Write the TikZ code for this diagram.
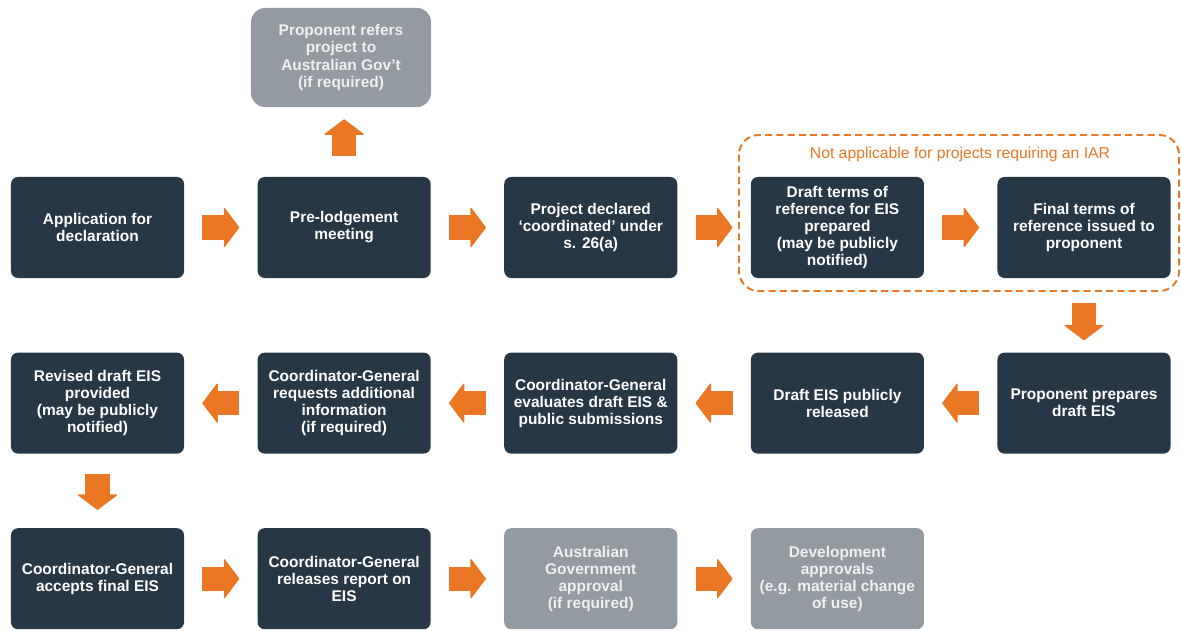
\documentclass[tikz,border=0pt]{standalone}
\usepackage{fontspec}
\setmainfont{Liberation Sans}
\usetikzlibrary{arrows.meta, positioning, calc}
\definecolor{NavyBox}{HTML}{263746}
\definecolor{GreyBox}{HTML}{939AA1}
\definecolor{FlowOrange}{HTML}{EA7724}

\begin{document}
\begin{tikzpicture}[
    x=0.025cm, y=-0.025cm,
    font=\fontsize{11}{12.1}\selectfont\bfseries,
    node distance=1.85cm and 1.825cm,
    stage/.style={fill=NavyBox, text=white, rounded corners=5pt, align=center,
        minimum width=4.325cm, minimum height=2.525cm, inner sep=2pt},
    optional/.style={stage, fill=GreyBox, text=white!94!black},
    flow/.style={FlowOrange, line width=0.6cm,
        -{Triangle[length=0.39cm, width=1.03cm, line width=0.8pt 0, round]},
        shorten <=0.45cm, shorten >=0.45cm},
]
\useasboundingbox (0,0) rectangle (1181,630);

% --- fila 1 ---
\node[stage] (apply) at (97.5,227.5) {Application for\\declaration};
\node[stage, right=of apply] (prelodge) {Pre-lodgement\\meeting};
\node[stage, right=of prelodge] (coord) {Project declared\\`coordinated' under\\s. 26(a)};
\node[stage, right=of coord] (draftTOR) {Draft terms of\\reference for EIS\\prepared\\(may be publicly\\notified)};
\node[stage, right=of draftTOR] (finalTOR) {Final terms of\\reference issued to\\proponent};

% referencia opcional
\node[optional, rounded corners=10pt, minimum width=4.5cm, minimum height=2.475cm] (refer) at (341,57.5)
    {Proponent refers\\project to\\Australian Gov't\\(if required)};

% marco IAR
\draw[FlowOrange, line width=1.4pt, dash pattern=on 5pt off 3pt, rounded corners=14pt]
    (739,135) rectangle (1179,291);
\node[font=\fontsize{11.2}{12}\selectfont\mdseries, text=FlowOrange] (iarnote) at (960,154)
    {Not applicable for projects requiring an IAR};

% --- fila 2 ---
\node[stage, below=of finalTOR] (prepEIS) {Proponent prepares\\draft EIS};
\node[stage, left=of prepEIS] (release) {Draft EIS publicly\\released};
\node[stage, left=of release] (evaluate) {Coordinator-General\\evaluates draft EIS \&\\public submissions};
\node[stage, left=of evaluate] (request) {Coordinator-General\\requests additional\\information\\(if required)};
\node[stage, left=of request] (revised) {Revised draft EIS\\provided\\(may be publicly\\notified)};

% --- fila 3 ---
\node[stage, below=of revised] (accept) {Coordinator-General\\accepts final EIS};
\node[stage, right=of accept] (report) {Coordinator-General\\releases report on\\EIS};
\node[optional, right=of report] (fedApprove) {Australian\\Government\\approval\\(if required)};
\node[optional, right=of fedApprove] (devApprove) {Development\\approvals\\(e.g. material change\\of use)};

% flechas
\draw[flow] (apply) -- (prelodge);
\draw[flow] (prelodge) -- (coord);
\draw[flow] (coord) -- (draftTOR);
\draw[flow] (draftTOR) -- (finalTOR);
\draw[flow, shorten <=0.525cm, shorten >=0.3cm] (prelodge.north) -- (prelodge.north |- refer.south);
\draw[flow, shorten <=0.625cm, shorten >=0.3cm] (finalTOR) -- (prepEIS);
\draw[flow] (prepEIS) -- (release);
\draw[flow] (release) -- (evaluate);
\draw[flow] (evaluate) -- (request);
\draw[flow] (request) -- (revised);
\draw[flow, shorten <=0.5cm, shorten >=0.45cm] (revised) -- (accept);
\draw[flow] (accept) -- (report);
\draw[flow] (report) -- (fedApprove);
\draw[flow] (fedApprove) -- (devApprove);

\end{tikzpicture}
\end{document}
